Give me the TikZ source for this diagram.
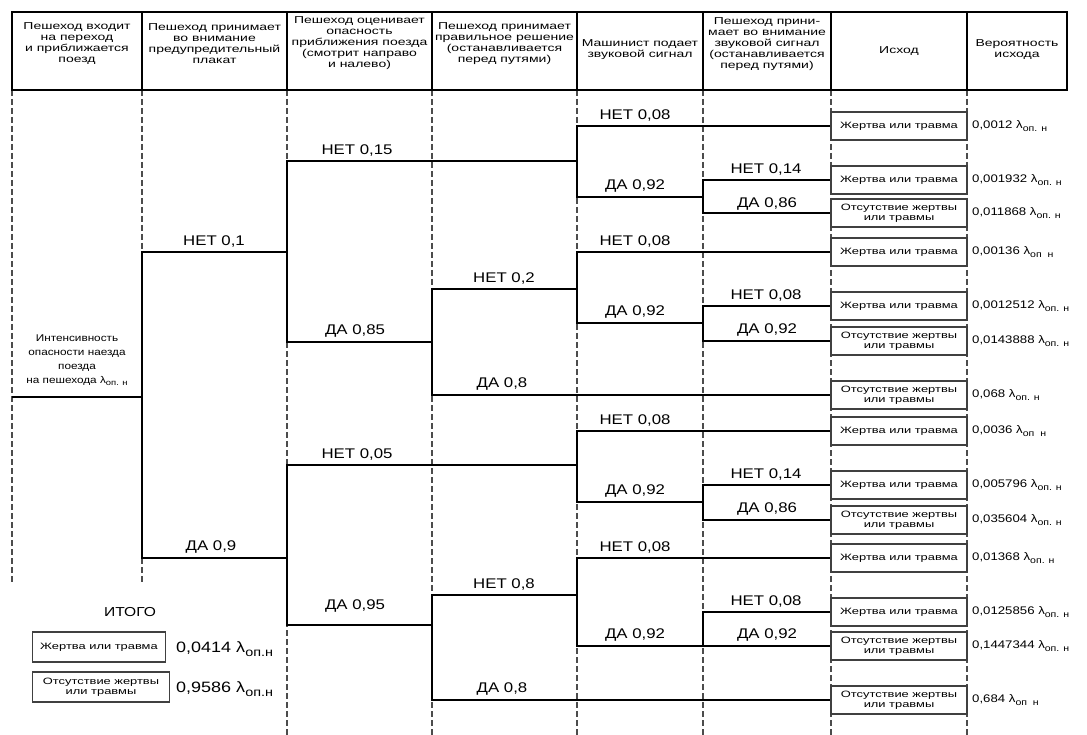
\documentclass[tikz,border=0pt]{standalone}
\usepackage{fontspec}
\setmainfont{Liberation Sans}
\newfontfamily\lblf[FakeStretch=1.2]{Liberation Sans}
\newfontfamily\widef[FakeStretch=1.4]{Liberation Sans}
\newcommand\lsub[1]{λ\raisebox{-0.45ex}{\scalebox{0.8}{#1}}}
\begin{document}
\begin{tikzpicture}[x=1pt,y=-1pt,
  hdr/.style={font=\widef\fontsize{10}{11}\selectfont, align=center, inner sep=0pt},
  br/.style={font=\lblf\fontsize{14}{16}\selectfont, anchor=south, inner xsep=2pt, inner ysep=5pt},
  obox/.style={draw=black!75, line width=1.5pt, fill=white, minimum width=136pt, minimum height=28pt, inner sep=1pt, align=center, font=\widef\fontsize{9.2}{9.8}\selectfont},
  prob/.style={anchor=west, font=\lblf\fontsize{11}{12}\selectfont, inner sep=0pt},
  tree/.style={line width=1.8pt, black},
  colline/.style={draw=black!70, line width=1.2pt, dash pattern=on 6pt off 3pt},
  hline/.style={line width=1.5pt, black}
]
\useasboundingbox (0,0) rectangle (1087,735);

% column dashed lines
\foreach \x in {12,142} \draw[colline] (\x,90) -- (\x,582);
\foreach \x in {287,432,577,703,831,967} \draw[colline] (\x,90) -- (\x,735);

% header
\draw[hline] (12,12) rectangle (1067,90);
\foreach \x in {142,287,432,577,703,831,967} \draw[hline] (\x,12) -- (\x,90);
\node[hdr] (h1) at (77,44) {Пешеход входит\\на переход\\и приближается\\поезд};
\node[hdr] (h2) at (214.5,44) {Пешеход принимает\\во внимание\\предупредительный\\плакат};
\node[hdr] (h3) at (359.5,43) {Пешеход оценивает\\опасность\\приближения поезда\\(смотрит направо\\и налево)};
\node[hdr] (h4) at (504.5,44) {Пешеход принимает\\правильное решение\\(останавливается\\перед путями)};
\node[hdr] (h5) at (640,50) {Машинист подает\\звуковой сигнал};
\node[hdr] (h6) at (767,44) {Пешеход прини-\\мает во внимание\\звуковой сигнал\\(останавливается\\перед путями)};
\node[hdr] (h7) at (899,51) {Исход};
\node[hdr] (h8) at (1017,50) {Вероятность\\исхода};

% outcome boxes
\node[obox] (o1) at (899,126) {Жертва или травма};
\node[obox] (o2) at (899,180) {Жертва или травма};
\node[obox] (o3) at (899,213) {Отсутствие жертвы\\или травмы};
\node[obox] (o4) at (899,252) {Жертва или травма};
\node[obox] (o5) at (899,306) {Жертва или травма};
\node[obox] (o6) at (899,341) {Отсутствие жертвы\\или травмы};
\node[obox] (o7) at (899,395) {Отсутствие жертвы\\или травмы};
\node[obox] (o8) at (899,431) {Жертва или травма};
\node[obox] (o9) at (899,485) {Жертва или травма};
\node[obox] (o10) at (899,520) {Отсутствие жертвы\\или травмы};
\node[obox] (o11) at (899,558) {Жертва или травма};
\node[obox] (o12) at (899,612) {Жертва или травма};
\node[obox] (o13) at (899,646) {Отсутствие жертвы\\или травмы};
\node[obox] (o14) at (899,700) {Отсутствие жертвы\\или травмы};

% probabilities
\node[prob] (p1) at (972,126) {0,0012 \lsub{оп. н}};
\node[prob] (p2) at (972,180) {0,001932 \lsub{оп. н}};
\node[prob] (p3) at (972,213) {0,011868 \lsub{оп. н}};
\node[prob] (p4) at (972,252) {0,00136 \lsub{оп\ \ н}};
\node[prob] (p5) at (972,306) {0,0012512 \lsub{оп. н}};
\node[prob] (p6) at (972,341) {0,0143888 \lsub{оп. н}};
\node[prob] (p7) at (972,395) {0,068 \lsub{оп. н}};
\node[prob] (p8) at (972,431) {0,0036 \lsub{оп\ \ н}};
\node[prob] (p9) at (972,485) {0,005796 \lsub{оп. н}};
\node[prob] (p10) at (972,520) {0,035604 \lsub{оп. н}};
\node[prob] (p11) at (972,558) {0,01368 \lsub{оп. н}};
\node[prob] (p12) at (972,612) {0,0125856 \lsub{оп. н}};
\node[prob] (p13) at (972,646) {0,1447344 \lsub{оп. н}};
\node[prob] (p14) at (972,700) {0,684 \lsub{оп\ \ н}};

% tree junctions
\coordinate (r0) at (12,397);
\coordinate (j0) at (142,397);
\coordinate (a) at (287,252);
\coordinate (b) at (287,558);
\coordinate (aa) at (577,161);
\coordinate (ab) at (432,342);
\coordinate (aab) at (703,197);
\coordinate (aba) at (577,289);
\coordinate (abab) at (703,323);
\coordinate (ba) at (577,465);
\coordinate (bb) at (432,625);
\coordinate (bab) at (703,502);
\coordinate (bba) at (577,595);
\coordinate (bbab) at (703,646);

\draw[tree] (r0) -- (j0);
\draw[tree] (j0) |- (a);
\draw[tree] (j0) |- (b);
\draw[tree] (a) |- (aa);
\draw[tree] (a) |- (ab);
\draw[tree] (aa) |- (o1.west);
\draw[tree] (aa) |- (aab);
\draw[tree] (aab) |- (o2.west);
\draw[tree] (aab) |- (o3.west);
\draw[tree] (ab) |- (aba);
\draw[tree] (ab) |- (o7.west);
\draw[tree] (aba) |- (o4.west);
\draw[tree] (aba) |- (abab);
\draw[tree] (abab) |- (o5.west);
\draw[tree] (abab) |- (o6.west);
\draw[tree] (b) |- (ba);
\draw[tree] (b) |- (bb);
\draw[tree] (ba) |- (o8.west);
\draw[tree] (ba) |- (bab);
\draw[tree] (bab) |- (o9.west);
\draw[tree] (bab) |- (o10.west);
\draw[tree] (bb) |- (bba);
\draw[tree] (bb) |- (o14.west);
\draw[tree] (bba) |- (o11.west);
\draw[tree] (bba) |- (bbab);
\draw[tree] (bbab) |- (o12.west);
\draw[tree] (bbab) |- (o13.west);

% branch labels
\node[br] (l1) at (214,252) {НЕТ 0,1};
\node[br] (l2) at (211,558) {ДА 0,9};
\node[br] (l3) at (357,161) {НЕТ 0,15};
\node[br] (l4) at (355,342) {ДА 0,85};
\node[br] (l5) at (635,126) {НЕТ 0,08};
\node[br] (l6) at (635,197) {ДА 0,92};
\node[br] (l7) at (766,180) {НЕТ 0,14};
\node[br] (l8) at (767,215) {ДА 0,86};
\node[br] (l9) at (504,289) {НЕТ 0,2};
\node[br] (l10) at (502,395) {ДА 0,8};
\node[br] (l11) at (635,252) {НЕТ 0,08};
\node[br] (l12) at (635,323) {ДА 0,92};
\node[br] (l13) at (766,306) {НЕТ 0,08};
\node[br] (l14) at (767,341) {ДА 0,92};
\node[br] (l15) at (357,465) {НЕТ 0,05};
\node[br] (l16) at (355,617) {ДА 0,95};
\node[br] (l17) at (635,431) {НЕТ 0,08};
\node[br] (l18) at (635,502) {ДА 0,92};
\node[br] (l19) at (766,485) {НЕТ 0,14};
\node[br] (l20) at (767,520) {ДА 0,86};
\node[br] (l21) at (504,595) {НЕТ 0,8};
\node[br] (l22) at (502,700) {ДА 0,8};
\node[br] (l23) at (635,558) {НЕТ 0,08};
\node[br] (l24) at (635,646) {ДА 0,92};
\node[br] (l25) at (766,612) {НЕТ 0,08};
\node[br] (l26) at (767,646) {ДА 0,92};

% root label
\node[font=\lblf\fontsize{9.8}{14}\selectfont, align=center, anchor=south, inner sep=0pt] (root) at (77,386) {Интенсивность\\опасности наезда\\поезда\\на пешехода \lsub{оп. н}};

% totals
\node[font=\lblf\fontsize{13}{15}\selectfont, inner sep=0pt] (itogo) at (130,612) {ИТОГО};
\node[obox, minimum width=133pt, minimum height=30pt] (t1) at (99,647) {Жертва или травма};
\node[obox, minimum width=137pt, minimum height=30pt] (t2) at (101,687) {Отсутствие жертвы\\или травмы};
\node[prob, font=\lblf\fontsize{15}{17}\selectfont] (tp1) at (176,649) {0,0414 \lsub{оп.н}};
\node[prob, font=\lblf\fontsize{15}{17}\selectfont] (tp2) at (176,689) {0,9586 \lsub{оп.н}};
\end{tikzpicture}
\end{document}
